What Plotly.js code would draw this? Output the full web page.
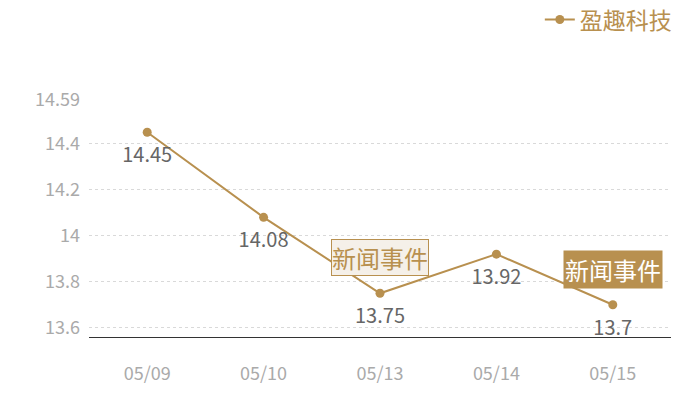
<!DOCTYPE html>
<html>
<head>
<meta charset="utf-8">
<script src="https://cdn.plot.ly/plotly-3.0.1.min.js"></script>
<style>
  html, body { margin: 0; padding: 0; background: #fff; }
  #chart { width: 700px; height: 400px; }
</style>
</head>
<body>
<div id="chart"></div>
<script>
var dates = ['05/09', '05/10', '05/13', '05/14', '05/15'];
var prices = [14.45, 14.08, 13.75, 13.92, 13.7];
var seriesName = '盈趣科技';
var yTicks = [13.6, 13.8, 14, 14.2, 14.4, 14.59];
var yTickText = ['13.6', '13.8', '14', '14.2', '14.4', '14.59'];
var eventDates = ['05/13', '05/15'];
var eventPrices = [13.75, 13.7];
var eventLabel = '新闻事件';

var gold = '#b8904f';
var fontFamily = '"Noto Sans CJK SC", "Noto Sans", sans-serif';

var line = {
  x: dates,
  y: prices,
  name: seriesName,
  type: 'scatter',
  mode: 'lines+markers',
  line: { color: gold, width: 2 },
  marker: { color: gold, size: 9 }
};

// value labels, pushed further below the points by a big invisible marker
var labels = {
  x: dates,
  y: prices,
  type: 'scatter',
  mode: 'text+markers',
  showlegend: false,
  text: prices.map(String),
  textposition: 'bottom center',
  textfont: { size: 20, color: '#666666', family: fontFamily },
  marker: { size: 22, opacity: 0 },
  cliponaxis: false
};

var annotations = [
  {
    x: eventDates[0], y: eventPrices[0], xref: 'x', yref: 'y',
    text: eventLabel, showarrow: false, yshift: 36,
    font: { size: 24, color: gold, family: fontFamily },
    bgcolor: '#f5f0e9', bordercolor: gold, borderwidth: 1, borderpad: 0
  },
  {
    x: eventDates[1], y: eventPrices[1], xref: 'x', yref: 'y',
    text: eventLabel, showarrow: false, yshift: 35,
    font: { size: 24, color: '#ffffff', family: fontFamily },
    bgcolor: gold, borderpad: 1
  }
];

var layout = {
  width: 700,
  height: 400,
  margin: { l: 89, r: 29, t: 100, b: 63, pad: 0, autoexpand: false },
  paper_bgcolor: '#ffffff',
  plot_bgcolor: '#ffffff',
  font: { family: fontFamily },
  showlegend: true,
  legend: {
    x: 1.01, xanchor: 'right', y: 1.43, yanchor: 'top',
    font: { size: 23, color: gold, family: fontFamily },
    bgcolor: 'rgba(0,0,0,0)'
  },
  xaxis: {
    type: 'category',
    range: [-0.5, 4.5],
    showgrid: false,
    zeroline: false,
    showline: true,
    linecolor: '#333333',
    linewidth: 1,
    ticks: '',
    tickfont: { size: 18, color: '#aaaaaa', family: fontFamily },
    ticklabelstandoff: 20
  },
  yaxis: {
    range: [13.56, 14.59],
    tickmode: 'array',
    tickvals: yTicks,
    ticktext: yTickText,
    showgrid: true,
    gridcolor: '#d9d9d9',
    griddash: 'dot',
    gridwidth: 1,
    zeroline: false,
    showline: false,
    ticks: '',
    tickfont: { size: 18, color: '#aaaaaa', family: fontFamily },
    ticklabelstandoff: 8
  },
  annotations: annotations
};

Plotly.newPlot('chart', [line, labels], layout, { displayModeBar: false, staticPlot: true });
</script>
</body>
</html>
